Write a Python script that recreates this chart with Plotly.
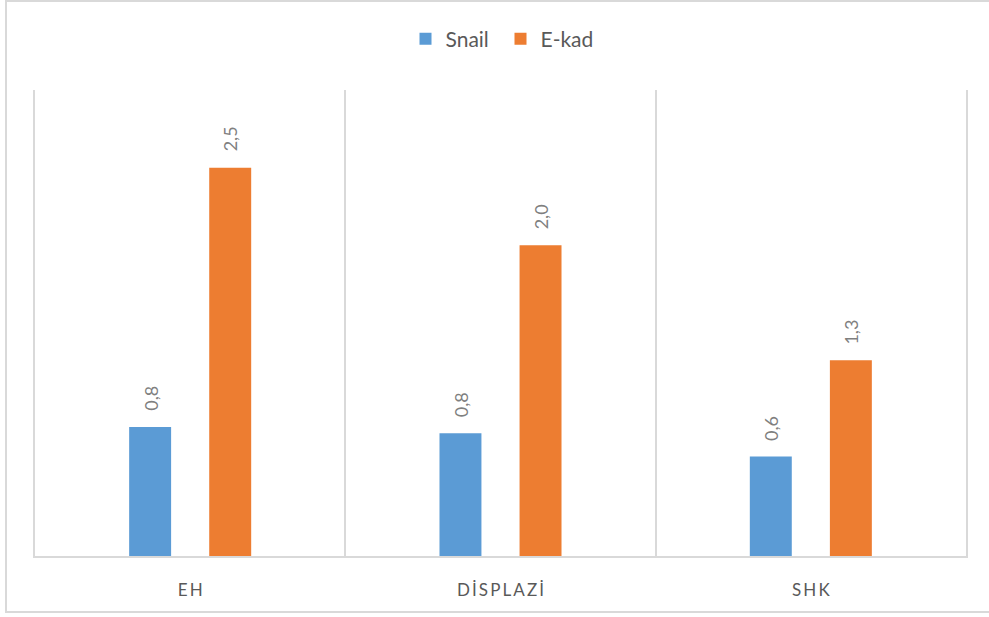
import plotly.graph_objects as go

categories = ["EH", "DİSPLAZİ", "SHK"]
snail = [0.83, 0.79, 0.64]
ekad = [2.5, 2.0, 1.26]
series_names = ["Snail", "E-kad"]
colors = ["#5B9BD5", "#ED7D31"]

def fmt(v):
    return f"{v:.1f}".replace(".", ",")

tick_labels = ["\u2009".join(list(c)) for c in categories]

W, H = 989, 617
L, R, T, B = 35, 23, 90, 61
pw, ph = W - L - R, H - T - B
FONT = "Lato, Open Sans, sans-serif"

fig = go.Figure()
for name, vals, col in zip(series_names, [snail, ekad], colors):
    fig.add_trace(go.Bar(
        name=name, x=categories, y=vals, marker=dict(color=col, line=dict(width=0)),
    ))

annotations = []
for shift, vals in zip([-40, 40], [snail, ekad]):
    for c, v in zip(categories, vals):
        annotations.append(dict(
            x=c, y=v, xref="x", yref="y", text=fmt(v), textangle=-90,
            showarrow=False, xanchor="center", yanchor="bottom",
            xshift=shift, yshift=14,
            font=dict(family=FONT, size=18, color="#7f7f7f"),
        ))

fig.update_layout(
    width=W, height=H,
    margin=dict(l=L, r=R, t=T, b=B),
    paper_bgcolor="white", plot_bgcolor="white",
    barmode="group", bargap=0.484, bargroupgap=0.476,
    font=dict(family=FONT, color="#595959"),
    legend=dict(orientation="h", x=0.5, xanchor="center", y=1 - 39 / H, yref="container",
                yanchor="middle", font=dict(size=21, color="#595959"),
                entrywidth=50, entrywidthmode="pixels", traceorder="normal"),
    xaxis=dict(type="category", tickmode="array", tickvals=categories, ticktext=tick_labels,
               tickson="boundaries", showgrid=True, gridcolor="#d9d9d9", gridwidth=1.5,
               showline=True, linecolor="#d9d9d9", linewidth=1.5, ticks="",
               tickfont=dict(size=17, color="#595959"), range=[-0.5, 2.5], ticklabelstandoff=18),
    yaxis=dict(range=[0, 3.0], showticklabels=False, showgrid=False, zeroline=False,
               showline=True, mirror=True, linecolor="#d9d9d9", linewidth=1.5, ticks=""),
    annotations=annotations,
    shapes=[dict(type="rect", xref="paper", yref="paper",
                 x0=(6 - L) / pw, x1=(W + 10 - L) / pw,
                 y0=-(612 - (T + ph)) / ph, y1=(T + ph - 1) / ph,
                 line=dict(color="#d9d9d9", width=2), layer="below")],
)

fig.write_html("out.html")
